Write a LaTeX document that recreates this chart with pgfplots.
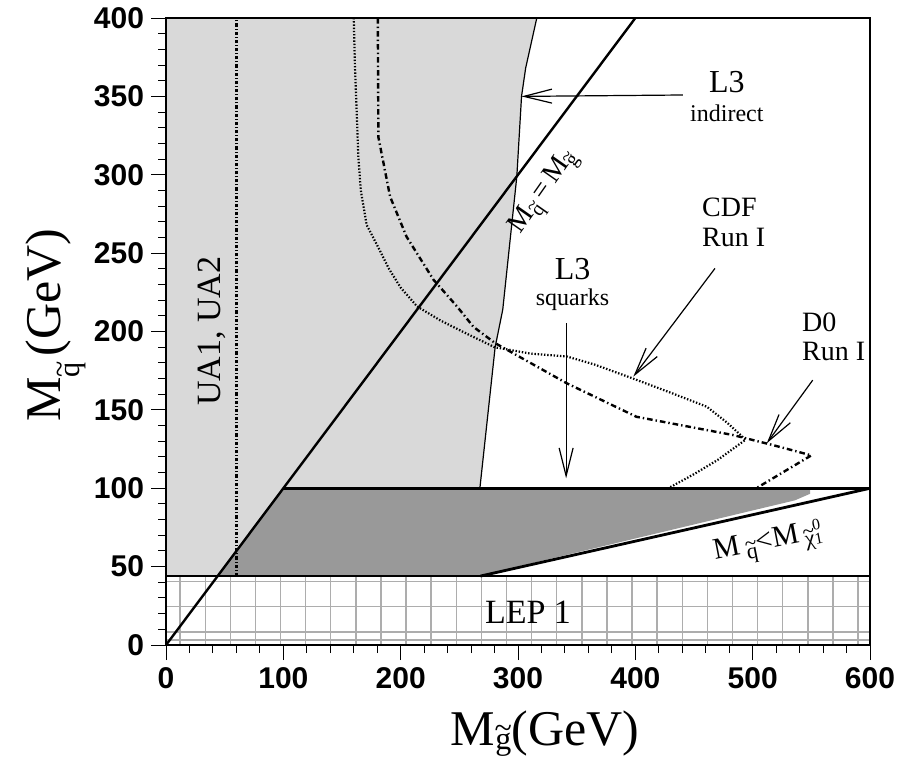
\documentclass[border=0pt]{standalone}
\usepackage{fontspec}
\setmainfont{Liberation Serif}
\setsansfont{Liberation Sans}
\usepackage{pgfplots}
\pgfplotsset{compat=1.18}
\usetikzlibrary{arrows.meta}
\definecolor{lightfill}{gray}{0.85}
\definecolor{darkfill}{gray}{0.60}
\definecolor{gridgray}{gray}{0.68}
\newcommand\fs[1]{\fontsize{#1}{#1}\selectfont}
% lowered subscript: raise, size, content
\newcommand\sub[3]{\raisebox{#1}{\fs{#2}#3}}
% letter with a tilde set above it
\newcommand\tl[1]{\ooalign{#1\cr\hidewidth\raisebox{0.33em}{\textasciitilde}\hidewidth\cr}}

\begin{document}
\begin{tikzpicture}
\begin{axis}[
  scale only axis, width=352pt, height=313.5pt,
  xmin=0, xmax=600, ymin=0, ymax=400,
  xtick={0,100,...,600}, ytick={0,50,...,400},
  minor x tick num=4, minor y tick num=4,
  tick align=outside, tick pos=left,
  major tick length=7.5pt, minor tick length=4pt,
  every tick/.style={black, line width=0.5pt},
  axis line style={line width=1.4pt},
  axis on top, clip=false,
  ticklabel style={font=\fs{15}\sffamily\bfseries},
  /pgf/number format/assume math mode=true,
]
% L3 indirect excluded region
\addplot[fill=lightfill, draw=none] coordinates {
  (0,44) (0,400) (316,400) (306.5,368) (303,350) (299,299) (287,214)
  (280.5,190) (267.5,100) (100,100) (44,44)};
\addplot[black, line width=0.6pt] coordinates {
  (316,400) (306.5,368) (303,350) (299,299) (287,214) (280.5,190) (267.5,100)};
% L3 squark search region
\addplot[fill=darkfill, draw=none] coordinates {
  (44,44) (100,100) (549,100) (549,96.5) (536,92.3) (266,44)};
% LEP 1 hatched band
\pgfplotsinvokeforeach{12,33.4,54.8,76.2,97.6,119,140.4,161.8,183.2,204.6,226,247.4,268.8,290.2,311.6,333,354.4,375.8,397.2,418.6,440,461.4,482.8,504.2,525.6,547,568.4,589.8}{
  \draw[gridgray, line width=0.7pt] (axis cs:#1,0) -- (axis cs:#1,44);
}
\pgfplotsinvokeforeach{3.2,8.4,24.4,40.4}{
  \draw[gridgray, line width=0.7pt] (axis cs:0,#1) -- (axis cs:600,#1);
}
% boundaries
\addplot[black, line width=1.4pt] coordinates {(0,44) (600,44)};
\addplot[black, line width=1.4pt] coordinates {(100,100) (600,100)};
\addplot[black, line width=1.4pt] coordinates {(268,44) (600,100)};
\addplot[black, line width=1.2pt] coordinates {(0,0) (400,400)};
% UA1, UA2
\addplot[black, line width=1.1pt, dash pattern=on 1.6pt off 1pt on 0.5pt off 1pt]
  coordinates {(60,44) (60,400)};
% CDF Run I
\addplot[black, line width=1.1pt, dash pattern=on 0.7pt off 0.9pt] coordinates {
  (160,400) (161,370) (162.5,340) (164,310) (166,290) (171,268) (180,255)
  (190,240) (200,228) (214,216) (234,207) (258,198) (280,190) (310,186)
  (342,184) (365,179) (398,170) (430,161) (461,152) (478,142) (494,131)
  (470,118) (450,109) (428,100)};
% D0 Run I
\addplot[black, line width=1.2pt, dash pattern=on 2.8pt off 1.5pt on 0.7pt off 1.5pt] coordinates {
  (180.5,400) (181,324) (191,286) (205,260.5) (228,233) (248,216) (262,203)
  (280.5,192.6) (341.5,167) (401,145.6) (483,134) (517,127.6) (550,121) (503,100)};
% arrows
\draw[line width=0.6pt, -{Straight Barb[length=14pt,width=7pt]}] (axis cs:440.6,350.9) -- (axis cs:303,350);
\draw[line width=0.6pt, -{Straight Barb[length=14pt,width=7pt]}] (axis cs:467.9,240.3) -- (axis cs:398.3,171.2);
\draw[line width=0.6pt, -{Straight Barb[length=14pt,width=7pt]}] (axis cs:551.2,169) -- (axis cs:512,128.7);
\draw[line width=0.6pt, -{Straight Barb[length=14pt,width=7pt]}] (axis cs:341,205.2) -- (axis cs:341,106.3);
% labels
\node[anchor=base, inner sep=0, font=\fs{16}] at (axis cs:478,352.8) {L3};
\node[anchor=base, inner sep=0, font=\fs{12}] at (axis cs:478,333.7) {indirect};
\node[anchor=base west, inner sep=0, font=\fs{14}] at (axis cs:456.6,273.3) {CDF};
\node[anchor=base west, inner sep=0, font=\fs{14}] at (axis cs:456.6,254) {Run I};
\node[anchor=base west, inner sep=0, font=\fs{14}] at (axis cs:541.8,200) {D0};
\node[anchor=base west, inner sep=0, font=\fs{14}] at (axis cs:541.8,181.8) {Run I};
\node[anchor=base, inner sep=0, font=\fs{16}] at (axis cs:346.5,232.9) {L3};
\node[anchor=base, inner sep=0, font=\fs{12}] at (axis cs:346.5,216.9) {squarks};
\node[rotate=90, inner sep=0, font=\fs{17}] at (axis cs:39.2,200.3) {UA1, UA2};
\node[anchor=base, inner sep=0, font=\fs{17}] at (axis cs:308.5,13.8) {LEP 1};
\node[rotate=55, anchor=base west, inner sep=0, font=\fs{14}] at (axis cs:302,262) {M\sub{-3pt}{10}{\tl{q}}\,=\,M\sub{-3pt}{10}{\tl{g}}};
\node[rotate=11, inner sep=0, font=\fs{15}] at (axis cs:513,66) {M\,\sub{-3pt}{11}{\tl{q}}<M\,\sub{-2.5pt}{11}{\tl{χ}}\rlap{\raisebox{5pt}{\fs{8}0}}\raisebox{-2.5pt}{\fs{8}1}};
% axis titles
\node[anchor=base, inner sep=0, font=\fs{25}] at (axis cs:323,-63.8) {M\sub{-2.2pt}{16}{\tl{g}}(GeV)};
\node[rotate=90, inner sep=0, font=\fs{25}] at (axis cs:-97,204) {M\sub{-9.5pt}{15}{\tl{q}}\hspace{3pt}(GeV)};
% picture frame
\coordinate (bbsw) at (axis cs:-141.5,-75.9);
\coordinate (bbne) at (axis cs:639.2,411.5);
\end{axis}
\pgfresetboundingbox
\path[use as bounding box] (bbsw) rectangle (bbne);
\end{tikzpicture}
\end{document}
